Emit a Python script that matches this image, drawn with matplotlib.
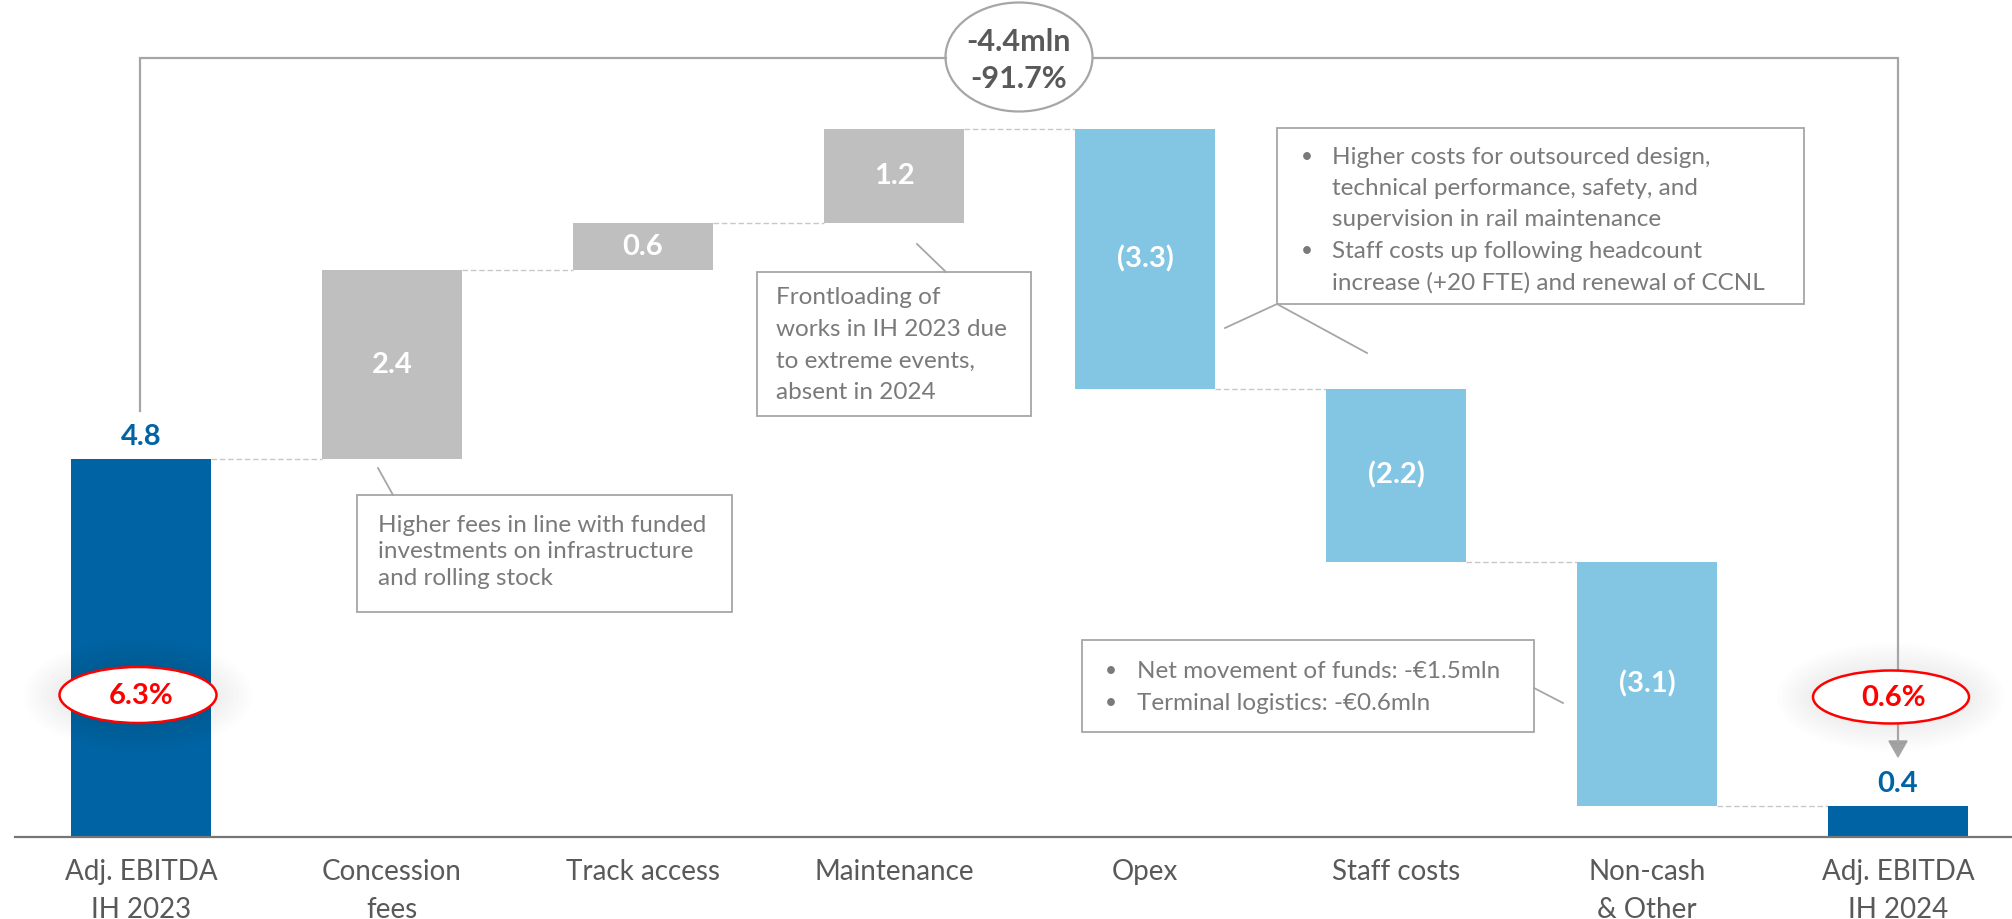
import numpy as np
import matplotlib
matplotlib.use('Agg')
import matplotlib.pyplot as plt
from matplotlib.patches import Ellipse, Rectangle, Polygon

plt.rcParams['font.family'] = ['Lato', 'DejaVu Sans']

# ---- data ----
categories = ['Adj. EBITDA\nIH 2023', 'Concession\nfees', 'Track access', 'Maintenance',
              'Opex', 'Staff costs', 'Non-cash\n& Other', 'Adj. EBITDA\nIH 2024']
values = [4.8, 2.4, 0.6, 1.2, -3.3, -2.2, -3.1, 0.4]
value_labels = ['4.8', '2.4', '0.6', '1.2', '(3.3)', '(2.2)', '(3.1)', '0.4']
margins = ['6.3%', '0.6%']
delta_abs = '-4.4mln'
delta_pct = '-91.7%'

note_fees = ['Higher fees in line with funded', 'investments on infrastructure', 'and rolling stock']
note_maint = ['Frontloading of', 'works in IH 2023 due', 'to extreme events,', 'absent in 2024']
note_costs = ['Higher costs for outsourced design,', 'technical performance, safety, and',
              'supervision in rail maintenance', 'Staff costs up following headcount',
              'increase (+20 FTE) and renewal of CCNL']
note_costs_bullets = [True, False, False, True, False]
note_noncash = ['Net movement of funds: -€1.5mln', 'Terminal logistics: -€0.6mln']

DARK_BLUE = '#0063A3'
LIGHT_BLUE = '#82C6E4'
GREY_BAR = '#BFBFBF'
LINE_GREY = '#A6A6A6'
TEXT_GREY = '#595959'
NOTE_GREY = '#7A7A7A'

W, H = 2012, 919
fig = plt.figure(figsize=(W / 100, H / 100), dpi=100)
ax = fig.add_axes([0, 0, 1, 1])
ax.set_xlim(-0.562, 7.454)
ax.set_ylim(-1.035, 10.634)
ax.axis('off')

n = len(values)
x = np.arange(n)
bottoms, colors = [], []
running = 0
for i, v in enumerate(values):
    if i == 0 or i == n - 1:
        bottoms.append(0)
        colors.append(DARK_BLUE)
        running = v
    else:
        bottoms.append(running)
        colors.append(GREY_BAR if v > 0 else LIGHT_BLUE)
        running += v
bottoms = np.array(bottoms)
tops = bottoms + np.array(values)

bar_w = 0.558
ax.bar(x, values, bottom=bottoms, width=bar_w, color=colors, zorder=2)

# dashed connectors between bars
for i in range(n - 1):
    ax.plot([x[i] + bar_w / 2, x[i + 1] - bar_w / 2], [tops[i], tops[i]],
            color='#C8C8C8', lw=1, ls=(0, (4, 2)), zorder=1)

ax.plot([-0.502, 7.454], [0, 0], color='#767676', lw=1.6, zorder=3)

for i in range(n):
    if i == 0 or i == n - 1:
        ax.annotate(value_labels[i], (x[i], tops[i]), xytext=(0, 16), textcoords='offset points',
                    ha='center', va='center', fontsize=21, fontweight='bold', color=DARK_BLUE)
    else:
        ax.text(x[i], (bottoms[i] + tops[i]) / 2, value_labels[i], ha='center', va='center',
                fontsize=21, fontweight='bold', color='white', zorder=4)
    ax.annotate(categories[i], (x[i], 0), xytext=(0, -15.5), textcoords='offset points',
                ha='center', va='top', fontsize=20, color=TEXT_GREY, linespacing=1.55)

# ---- overlay in pixel space for callouts ----
ov = fig.add_axes([0, 0, 1, 1])
ov.set_xlim(0, W)
ov.set_ylim(H, 0)
ov.axis('off')

# bracket with delta bubble
ov.plot([140, 140, 946], [411, 58, 58], color=LINE_GREY, lw=1.6, solid_joinstyle='miter')
ov.plot([1093, 1898, 1898], [58, 58, 742], color=LINE_GREY, lw=1.6, solid_joinstyle='miter')
ov.add_patch(Polygon([(1889, 741), (1907, 741), (1898, 757)], closed=True, color=LINE_GREY))
ov.add_patch(Ellipse((1019, 57), 147, 109, fc='white', ec=LINE_GREY, lw=1.6))
ov.text(1019, 42, delta_abs, ha='center', va='center', fontsize=22, fontweight='bold', color=TEXT_GREY)
ov.text(1019, 79, delta_pct, ha='center', va='center', fontsize=22, fontweight='bold', color=TEXT_GREY)


def margin_bubble(cx, cy, w, h, label):
    for k in range(8, 0, -1):
        ov.add_patch(Ellipse((cx, cy), w + 9 * k, h + 7 * k, fc='black', ec='none', alpha=0.006))
    ov.add_patch(Ellipse((cx, cy), w, h, fc='white', ec='#FF0000', lw=1.8, zorder=5))
    ov.text(cx + 3, cy + 1, label, ha='center', va='center', fontsize=21, fontweight='bold',
            color='#FF0000', zorder=6)


margin_bubble(138, 695, 157, 56, margins[0])
margin_bubble(1891, 697, 156, 53, margins[1])


def note(box, lines, tx, y0, dy, bullets=None, bx=None):
    x0, y_top, x1, y_bot = box
    ov.add_patch(Rectangle((x0, y_top), x1 - x0, y_bot - y_top, fill=False, ec=LINE_GREY, lw=1.3))
    for k, line in enumerate(lines):
        yy = y0 + k * dy
        ov.text(tx, yy, line, ha='left', va='center', fontsize=17.5, color=NOTE_GREY)
        if bullets is not None and bullets[k]:
            ov.text(bx, yy, '•', ha='left', va='center', fontsize=15, color=NOTE_GREY)


note((357, 495, 732, 612), note_fees, 378, 525, 26.7)
ov.plot([378, 393], [468, 495], color=LINE_GREY, lw=1.3)

note((757, 272, 1031, 416), note_maint, 776, 298, 31.5)
ov.plot([917, 946], [244, 272], color=LINE_GREY, lw=1.3)

note((1277, 128, 1804, 304), note_costs, 1332, 157, 31.5, note_costs_bullets, 1301)
ov.plot([1225, 1277, 1367], [328, 304, 353], color=LINE_GREY, lw=1.3)

note((1082, 640, 1534, 732), note_noncash, 1137, 671, 32, [True, True], 1105)
ov.plot([1534, 1563], [688, 703], color=LINE_GREY, lw=1.3)

fig.savefig('out.png', dpi=100)
